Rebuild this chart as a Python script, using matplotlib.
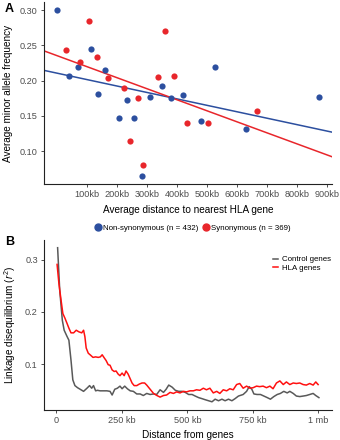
import numpy as np
import matplotlib
matplotlib.use("Agg")
import matplotlib.pyplot as plt

plt.rcParams['font.family'] = ['Liberation Sans', 'DejaVu Sans']
plt.rcParams['mathtext.fontset'] = 'custom'
plt.rcParams['mathtext.rm'] = 'Liberation Sans'
plt.rcParams['mathtext.it'] = 'Liberation Sans:italic'

# Panel A: average distance to nearest HLA gene (kb) vs minor allele frequency
nonsyn_dist = [0, 41, 69, 114, 161, 138, 232, 310, 349, 380, 419, 527, 873,
               208, 257, 481, 630, 282]
nonsyn_maf = [0.300, 0.206, 0.219, 0.245, 0.215, 0.181, 0.173, 0.177, 0.192,
              0.176, 0.179, 0.219, 0.177, 0.147, 0.147, 0.143, 0.131, 0.065]
syn_dist = [30, 105, 76, 134, 171, 222, 269, 337, 360, 390, 667, 432, 504,
            242, 286]
syn_maf = [0.244, 0.285, 0.226, 0.233, 0.204, 0.190, 0.175, 0.205, 0.270,
           0.207, 0.157, 0.140, 0.140, 0.115, 0.080]
a_ticks = [100, 200, 300, 400, 500, 600, 700, 800, 900]
a_ticklabels = [f"{t}kb" for t in a_ticks]

# Panel B: LD decay with distance from genes (kb)
ctrl_kb = [5, 13, 23, 30, 41, 48, 56, 63, 71, 81, 91, 104, 117, 127, 135, 142,
           150, 157, 167, 180, 193, 205, 213, 223, 233, 243, 251, 261, 271,
           282, 294, 307, 320, 332, 345, 358, 371, 383, 396, 409, 419, 429,
           442, 454, 467, 480, 492, 505, 518, 530, 543, 556, 568, 581, 594,
           606, 619, 632, 644, 657, 670, 682, 695, 713, 726, 736, 746, 754,
           766, 779, 792, 805, 817, 830, 843, 855, 868, 881, 891, 904, 916,
           929, 942, 954, 967, 980, 990, 1002]
ctrl_ld = [0.323, 0.242, 0.184, 0.165, 0.153, 0.146, 0.108, 0.070, 0.059,
           0.055, 0.052, 0.048, 0.054, 0.059, 0.054, 0.059, 0.049, 0.050,
           0.049, 0.049, 0.049, 0.048, 0.041, 0.052, 0.054, 0.058, 0.053,
           0.058, 0.053, 0.049, 0.048, 0.043, 0.043, 0.040, 0.044, 0.042,
           0.043, 0.042, 0.051, 0.046, 0.052, 0.060, 0.056, 0.050, 0.048,
           0.048, 0.046, 0.042, 0.042, 0.039, 0.036, 0.034, 0.032, 0.030,
           0.028, 0.033, 0.030, 0.033, 0.030, 0.033, 0.030, 0.034, 0.039,
           0.042, 0.048, 0.057, 0.052, 0.043, 0.042, 0.042, 0.039, 0.036,
           0.033, 0.038, 0.042, 0.044, 0.048, 0.045, 0.048, 0.044, 0.039,
           0.038, 0.039, 0.040, 0.042, 0.044, 0.040, 0.036]
hla_kb = [3, 10, 18, 25, 33, 41, 48, 56, 66, 76, 86, 97, 104, 109, 114, 122,
          129, 140, 150, 160, 168, 175, 183, 190, 198, 205, 213, 221, 228,
          236, 243, 251, 259, 266, 274, 282, 289, 297, 307, 317, 327, 337,
          345, 358, 371, 384, 396, 409, 421, 434, 447, 459, 472, 485, 497,
          510, 523, 535, 548, 561, 573, 586, 599, 612, 624, 637, 650, 662,
          675, 688, 700, 713, 726, 739, 751, 764, 776, 789, 802, 815, 827,
          840, 853, 866, 878, 891, 904, 916, 929, 942, 954, 967, 980, 990,
          999]
hla_ld = [0.291, 0.254, 0.223, 0.197, 0.188, 0.178, 0.169, 0.160, 0.160,
          0.165, 0.162, 0.160, 0.165, 0.153, 0.131, 0.121, 0.118, 0.113,
          0.114, 0.113, 0.114, 0.118, 0.112, 0.107, 0.099, 0.098, 0.089,
          0.086, 0.087, 0.081, 0.078, 0.083, 0.078, 0.087, 0.081, 0.072,
          0.064, 0.059, 0.059, 0.062, 0.064, 0.064, 0.060, 0.052, 0.044,
          0.040, 0.037, 0.040, 0.041, 0.046, 0.044, 0.047, 0.045, 0.048,
          0.047, 0.049, 0.049, 0.051, 0.050, 0.054, 0.051, 0.054, 0.045,
          0.048, 0.044, 0.051, 0.049, 0.053, 0.051, 0.061, 0.063, 0.054,
          0.058, 0.054, 0.055, 0.058, 0.057, 0.058, 0.055, 0.058, 0.053,
          0.064, 0.068, 0.061, 0.066, 0.061, 0.064, 0.063, 0.064, 0.061,
          0.060, 0.063, 0.060, 0.066, 0.061]
b_ticks = [0, 250, 500, 750, 1000]
b_ticklabels = ["0", "250 kb", "500 kb", "750 kb", "1 mb"]

blue = "#2c4f9f"
red = "#e8262b"
tick_col = "#4d4d4d"

fig = plt.figure(figsize=(3.4, 4.4), dpi=100)
axA = fig.add_axes([44 / 340, 1 - 184 / 440, 288 / 340, 182 / 440])
axB = fig.add_axes([44 / 340, 1 - 409.5 / 440, 288 / 340, 169.5 / 440])


def style(ax):
    for s in ["top", "right"]:
        ax.spines[s].set_visible(False)
    for s in ["left", "bottom"]:
        ax.spines[s].set_linewidth(0.8)
        ax.spines[s].set_color("#222222")
    ax.tick_params(length=2.5, width=0.6, color="#333333", labelsize=6.6,
                   labelcolor=tick_col, pad=2)
    ax.margins(x=0.05, y=0.05)


# --- panel A ---
axA.scatter(nonsyn_dist, nonsyn_maf, s=20, color=blue, zorder=3, lw=0)
axA.scatter(syn_dist, syn_maf, s=20, color=red, zorder=3, lw=0)
style(axA)
xlo, xhi = axA.get_xlim()
axA.set_xlim(xlo, xhi)
xs = np.array([xlo, xhi])
for d, m, c in [(nonsyn_dist, nonsyn_maf, blue), (syn_dist, syn_maf, red)]:
    k, b = np.polyfit(d, m, 1)
    axA.plot(xs, k * xs + b, color=c, lw=1.1, zorder=2)
axA.set_xticks(a_ticks)
axA.set_xticklabels(a_ticklabels)
axA.set_yticks([0.10, 0.15, 0.20, 0.25, 0.30])
axA.set_yticklabels(["0.10", "0.15", "0.20", "0.25", "0.30"])
axA.set_xlabel("Average distance to nearest HLA gene", fontsize=7.2,
               labelpad=4)
axA.set_ylabel("Average minor allele frequency", fontsize=7.2, labelpad=5)

hA = [plt.Line2D([], [], marker="o", ls="", color=blue, markersize=5),
      plt.Line2D([], [], marker="o", ls="", color=red, markersize=5)]
fig.legend(hA, ["Non-synonymous (n = 432)", "Synonymous (n = 369)"],
           loc="center", bbox_to_anchor=(192 / 340, 1 - 228 / 440), ncol=2,
           frameon=False, fontsize=5.7, handletextpad=0.1, columnspacing=0.5,
           handlelength=1.0)

# --- panel B ---
axB.plot(ctrl_kb, ctrl_ld, color="#595959", lw=1.1, label="Control genes")
axB.plot(hla_kb, hla_ld, color="#ff1010", lw=1.1, label="HLA genes")
style(axB)
axB.set_xticks(b_ticks)
axB.set_xticklabels(b_ticklabels)
axB.set_yticks([0.1, 0.2, 0.3])
axB.set_xlabel("Distance from genes", fontsize=7.2, labelpad=4)
axB.set_ylabel("Linkage disequilibrium ($r^2$)", fontsize=7.2, labelpad=5)
axB.legend(loc="center left", bbox_to_anchor=(0.77, 0.86), frameon=False,
           fontsize=5.7, handlelength=0.7, handletextpad=0.4, labelspacing=0.1)

fig.text(5 / 340, 1 - 9 / 440, "A", fontsize=9, fontweight="bold",
         va="center")
fig.text(5 / 340, 1 - 242 / 440, "B", fontsize=9, fontweight="bold",
         va="center")

fig.savefig("out.png", dpi=100)
